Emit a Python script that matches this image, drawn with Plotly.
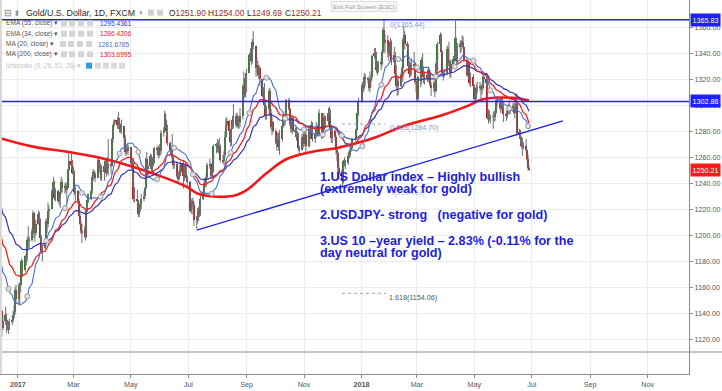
import pandas as pd
import plotly.graph_objects as go

# ---------------- data (read / estimated from the reference) ----------------
# Daily XAU/USD candles, 2016-12-14 .. 2018-06-28 (trading days)
closes = [
    # Dec 2016
    1142, 1129, 1134, 1139, 1133, 1132, 1131, 1133, 1135, 1139, 1141, 1158, 1151,
    # Jan 2017
    1161, 1162, 1165, 1180, 1173, 1184, 1185, 1196, 1196, 1196, 1203, 1217, 1202, 1202, 1209, 1216, 1211, 1198, 1188, 1190, 1195, 1211,
    # Feb 2017
    1209, 1219, 1220, 1234, 1236, 1241, 1229, 1234, 1226, 1229, 1233, 1241, 1236, 1238, 1235, 1236, 1250, 1257, 1254, 1248,
    # Mar 2017
    1249, 1233, 1234, 1226, 1215, 1209, 1203, 1202, 1204, 1199, 1220, 1227, 1229, 1234, 1245, 1249, 1247, 1244, 1258, 1252, 1253, 1244, 1249,
    # Apr 2017
    1253, 1257, 1248, 1252, 1255, 1253, 1274, 1285, 1287, 1289, 1285, 1290, 1282, 1283, 1284, 1275, 1264, 1266, 1265, 1268,
    # May 2017
    1256, 1256, 1248, 1228, 1228, 1227, 1216, 1220, 1224, 1228, 1230, 1236, 1259, 1251, 1253, 1261, 1251, 1257, 1256, 1267, 1266, 1262, 1268,
    # Jun 2017
    1265, 1279, 1281, 1293, 1287, 1280, 1271, 1266, 1267, 1260, 1254, 1255, 1246, 1243, 1246, 1249, 1256, 1246, 1253, 1249, 1244, 1241,
    # Jul 2017
    1219, 1224, 1226, 1223, 1212, 1213, 1214, 1219, 1217, 1228, 1233, 1240, 1241, 1245, 1254, 1255, 1246, 1249, 1260, 1269, 1269,
    # Aug 2017
    1268, 1267, 1269, 1258, 1257, 1262, 1276, 1285, 1288, 1280, 1272, 1282, 1289, 1285, 1292, 1284, 1290, 1287, 1292, 1315, 1309, 1308, 1321,
    # Sep 2017
    1325, 1339, 1339, 1334, 1349, 1346, 1329, 1331, 1323, 1329, 1320, 1307, 1311, 1300, 1292, 1297, 1311, 1294, 1283, 1287, 1280,
    # Oct 2017
    1271, 1273, 1274, 1268, 1274, 1284, 1292, 1288, 1293, 1304, 1297, 1286, 1282, 1290, 1280, 1281, 1276, 1278, 1267, 1266, 1276, 1270,
    # Nov 2017
    1277, 1277, 1269, 1281, 1275, 1282, 1285, 1274, 1278, 1282, 1283, 1278, 1294, 1275, 1281, 1291, 1289, 1288, 1294, 1294, 1282, 1275,
    # Dec 2017
    1280, 1276, 1266, 1263, 1252, 1248, 1246, 1242, 1257, 1254, 1256, 1261, 1262, 1266, 1267, 1274, 1281, 1286, 1294, 1303,
    # Jan 2018
    1316, 1313, 1322, 1320, 1320, 1313, 1319, 1322, 1338, 1340, 1337, 1327, 1327, 1332, 1332, 1341, 1358, 1348, 1350, 1341, 1340, 1345,
    # Feb 2018
    1349, 1333, 1339, 1324, 1315, 1319, 1315, 1323, 1329, 1350, 1354, 1347, 1346, 1330, 1324, 1331, 1330, 1332, 1318, 1318,
    # Mar 2018
    1305, 1322, 1319, 1335, 1326, 1322, 1323, 1321, 1327, 1325, 1316, 1313, 1317, 1311, 1332, 1327, 1347, 1354, 1341, 1325, 1323, 1325,
    # Apr 2018
    1343, 1333, 1333, 1325, 1332, 1336, 1338, 1352, 1334, 1345, 1347, 1348, 1349, 1345, 1335, 1323, 1333, 1322, 1317, 1322, 1315,
    # May 2018
    1305, 1306, 1313, 1314, 1314, 1313, 1313, 1322, 1320, 1317, 1290, 1291, 1290, 1291, 1291, 1291, 1294, 1304, 1302, 1298, 1299, 1299, 1298,
    # Jun 2018
    1293, 1292, 1296, 1297, 1298, 1298, 1299, 1294, 1298, 1301, 1279, 1278, 1275, 1269, 1268, 1269, 1266, 1259, 1251.9, 1250.21,
]
highs = [
    1164, 1143, 1140, 1145, 1140, 1135, 1134, 1136, 1138, 1142, 1146, 1160, 1162,
    1163, 1164, 1166, 1182, 1181, 1185, 1188, 1199, 1207, 1199, 1205, 1219, 1218, 1206, 1212, 1219, 1218, 1213, 1200, 1193, 1197, 1213,
    1213, 1225, 1223, 1235, 1238, 1245, 1242, 1236, 1235, 1232, 1236, 1245, 1243, 1240, 1241, 1240, 1251, 1264, 1263, 1258,
    1253, 1250, 1238, 1235, 1228, 1217, 1211, 1209, 1207, 1205, 1222, 1232, 1232, 1235, 1246, 1251, 1250, 1249, 1261, 1259, 1257, 1255, 1254,
    1256, 1259, 1259, 1260, 1274, 1256, 1275, 1285, 1289, 1289, 1291, 1295, 1289, 1286, 1289, 1278, 1277, 1270, 1269, 1270,
    1267, 1259, 1259, 1240, 1237, 1235, 1226, 1222, 1226, 1232, 1234, 1237, 1260, 1264, 1256, 1263, 1262, 1260, 1260, 1268, 1269, 1267, 1270,
    1270, 1281, 1283, 1296, 1294, 1289, 1285, 1272, 1269, 1278, 1261, 1258, 1257, 1248, 1250, 1254, 1257, 1258, 1254, 1256, 1254, 1246,
    1242, 1228, 1228, 1229, 1226, 1215, 1221, 1222, 1224, 1233, 1235, 1244, 1242, 1247, 1256, 1259, 1256, 1251, 1262, 1270, 1271,
    1274, 1273, 1275, 1270, 1262, 1265, 1280, 1290, 1291, 1289, 1282, 1284, 1292, 1301, 1294, 1294, 1292, 1292, 1298, 1316, 1326, 1313, 1323,
    1328, 1340, 1344, 1342, 1351, 1357, 1336, 1337, 1334, 1331, 1330, 1320, 1314, 1317, 1302, 1300, 1313, 1313, 1297, 1291, 1288,
    1282, 1277, 1279, 1279, 1281, 1287, 1294, 1293, 1296, 1305, 1306, 1298, 1288, 1292, 1292, 1283, 1283, 1280, 1279, 1269, 1278, 1279,
    1282, 1283, 1284, 1284, 1283, 1284, 1288, 1287, 1282, 1287, 1285, 1286, 1297, 1294, 1283, 1294, 1292, 1292, 1298, 1299, 1297, 1285,
    1284, 1282, 1277, 1268, 1264, 1254, 1250, 1249, 1258, 1260, 1258, 1264, 1265, 1268, 1269, 1275, 1282, 1288, 1295, 1306,
    1318, 1317, 1325, 1324, 1322, 1321, 1326, 1323, 1339, 1344, 1344, 1341, 1334, 1334, 1336, 1343, 1360, 1366, 1355, 1354, 1346, 1348,
    1352, 1350, 1345, 1341, 1331, 1322, 1323, 1325, 1330, 1352, 1361, 1357, 1349, 1347, 1334, 1333, 1336, 1341, 1333, 1321,
    1318, 1323, 1324, 1337, 1340, 1330, 1326, 1324, 1330, 1328, 1326, 1318, 1319, 1319, 1333, 1335, 1349, 1356, 1355, 1342, 1326, 1327,
    1346, 1345, 1349, 1335, 1335, 1338, 1343, 1365, 1352, 1348, 1350, 1350, 1354, 1353, 1345, 1336, 1335, 1333, 1324, 1325, 1324,
    1316, 1312, 1316, 1318, 1318, 1316, 1316, 1325, 1326, 1323, 1319, 1297, 1296, 1293, 1295, 1296, 1296, 1306, 1307, 1305, 1306, 1306, 1306,
    1301, 1296, 1298, 1301, 1304, 1300, 1302, 1301, 1305, 1309, 1309, 1282, 1281, 1276, 1275, 1272, 1274, 1266, 1262, 1254.00,
]
lows = [
    1141, 1122, 1127, 1131, 1125, 1127, 1124, 1127, 1131, 1133, 1136, 1139, 1147,
    1146, 1147, 1156, 1163, 1168, 1172, 1177, 1180, 1190, 1190, 1195, 1201, 1198, 1195, 1200, 1208, 1209, 1195, 1186, 1180, 1189, 1192,
    1202, 1206, 1213, 1220, 1231, 1233, 1227, 1226, 1225, 1223, 1221, 1232, 1233, 1232, 1233, 1225, 1236, 1249, 1251, 1247,
    1241, 1231, 1225, 1224, 1214, 1208, 1201, 1194, 1198, 1196, 1198, 1218, 1225, 1227, 1232, 1242, 1243, 1241, 1245, 1250, 1248, 1242, 1242,
    1242, 1251, 1245, 1247, 1246, 1247, 1253, 1271, 1283, 1285, 1282, 1282, 1279, 1279, 1278, 1265, 1262, 1261, 1263, 1262,
    1254, 1251, 1237, 1226, 1225, 1221, 1214, 1214, 1218, 1220, 1226, 1228, 1235, 1245, 1244, 1251, 1248, 1248, 1253, 1255, 1262, 1260, 1259,
    1261, 1262, 1276, 1280, 1283, 1276, 1269, 1262, 1261, 1257, 1251, 1251, 1244, 1240, 1242, 1245, 1247, 1236, 1242, 1246, 1241, 1237,
    1218, 1217, 1216, 1220, 1207, 1205, 1209, 1211, 1214, 1215, 1227, 1231, 1237, 1237, 1243, 1251, 1244, 1245, 1244, 1258, 1263,
    1264, 1263, 1265, 1256, 1255, 1254, 1260, 1275, 1281, 1276, 1268, 1269, 1282, 1282, 1283, 1283, 1282, 1282, 1283, 1289, 1303, 1306, 1306,
    1310, 1325, 1334, 1331, 1332, 1343, 1322, 1325, 1322, 1320, 1315, 1306, 1304, 1297, 1289, 1289, 1293, 1291, 1281, 1277, 1279,
    1270, 1265, 1271, 1265, 1262, 1272, 1283, 1284, 1285, 1290, 1296, 1284, 1279, 1279, 1278, 1276, 1273, 1275, 1265, 1262, 1266, 1267,
    1268, 1273, 1264, 1268, 1268, 1274, 1280, 1272, 1271, 1275, 1277, 1276, 1276, 1274, 1275, 1280, 1287, 1284, 1285, 1291, 1280, 1271,
    1271, 1273, 1262, 1257, 1245, 1243, 1244, 1237, 1240, 1253, 1251, 1254, 1259, 1260, 1264, 1266, 1272, 1279, 1285, 1292,
    1302, 1310, 1312, 1315, 1317, 1311, 1310, 1314, 1320, 1336, 1329, 1325, 1323, 1325, 1327, 1330, 1340, 1342, 1340, 1337, 1334, 1338,
    1340, 1331, 1330, 1323, 1313, 1307, 1308, 1314, 1321, 1318, 1350, 1343, 1342, 1328, 1321, 1322, 1323, 1327, 1316, 1310,
    1303, 1303, 1314, 1316, 1324, 1317, 1316, 1318, 1318, 1322, 1314, 1307, 1310, 1306, 1310, 1321, 1326, 1343, 1340, 1322, 1319, 1322,
    1323, 1330, 1330, 1322, 1321, 1330, 1333, 1336, 1333, 1333, 1340, 1341, 1345, 1343, 1333, 1322, 1322, 1320, 1315, 1314, 1313,
    1302, 1301, 1304, 1309, 1311, 1305, 1308, 1311, 1317, 1315, 1289, 1286, 1288, 1286, 1282, 1287, 1288, 1293, 1299, 1297, 1294, 1296, 1297,
    1287, 1288, 1290, 1293, 1293, 1293, 1296, 1293, 1290, 1296, 1277, 1274, 1270, 1267, 1261, 1266, 1264, 1257, 1250, 1249.69,
]
first_open = 1159.0
last_open = 1251.90

# closes before the first shown candle (for the 20-day MA) and EMA starting values
sma20_prior = [1216, 1207, 1213, 1212, 1188, 1183, 1178, 1190, 1189, 1173,
               1169, 1177, 1166, 1171, 1175, 1171, 1159, 1159, 1158]
ema55_start = 1226.0
ema34_start = 1204.0

# MA(200)
ma200_dates = ["2016-12-13", "2017-01-17", "2017-02-22", "2017-03-29", "2017-05-03",
               "2017-06-08", "2017-06-29", "2017-07-13", "2017-08-17", "2017-09-01",
               "2017-09-22", "2017-10-13", "2017-11-10", "2017-12-05", "2017-12-30",
               "2018-01-13", "2018-02-18", "2018-03-25", "2018-04-22", "2018-05-10",
               "2018-05-28", "2018-06-15", "2018-06-28"]
ma200_vals = [1274.7, 1268.2, 1264.3, 1259.6, 1252.8, 1243.8, 1237.4, 1231.5, 1230.2,
              1234.8, 1247.7, 1258.5, 1264.3, 1267.0, 1271.5, 1274.6, 1284.8, 1291.8,
              1299.0, 1304.6, 1306.0, 1305.4, 1303.7]

# drawn objects
hlines = [1365.83, 1302.86]
trend_dates = ["2017-07-10", "2018-08-03"]
trend_vals = [1204.0, 1288.0]

x_tick_dates = ["2017-01-01", "2017-03-01", "2017-05-01", "2017-07-01", "2017-09-01", "2017-11-01",
                "2018-01-01", "2018-03-01", "2018-05-01", "2018-07-01", "2018-09-01", "2018-11-01"]
x_tick_text = ["<b>2017</b>", "Mar", "May", "Jul", "Sep", "Nov", "<b>2018</b>", "Mar", "May", "Jul", "Sep", "Nov"]
y_ticks = [1120, 1140, 1160, 1180, 1200, 1220, 1240, 1260, 1280, 1300, 1320, 1340, 1360]

# ---------------- build ----------------
n = min(len(closes), len(highs), len(lows))
closes, highs, lows = closes[:n], highs[:n], lows[:n]
bd = pd.bdate_range("2016-12-14", "2018-08-31")
bd = bd[~bd.isin(pd.to_datetime(["2017-12-25", "2018-01-01"]))]
dates = list(bd[:n])
opens = [first_open] + closes[:-1]
opens[-1] = last_open
highs = [max(h, o, c) for h, o, c in zip(highs, opens, closes)]
lows = [min(l, o, c) for l, o, c in zip(lows, opens, closes)]

ext = pd.concat([pd.Series(sma20_prior, dtype=float), pd.Series(closes, dtype=float)], ignore_index=True)
sma20 = ext.rolling(20).mean().iloc[len(sma20_prior):].values


def ema(vals, span, start):
    a = 2.0 / (span + 1)
    out, e = [], start
    for v in vals:
        e = a * v + (1 - a) * e
        out.append(e)
    return out


ema55 = ema(closes, 55, ema55_start)
ema34 = ema(closes, 34, ema34_start)

X0, X1 = "2016-12-13", "2018-12-15"
Y0, Y1 = 1093.3, 1381.0
PW, PH = 689.0, 374.0


def px(x):
    return x / PW


def py(y):
    return 1 - y / PH


fig = go.Figure()

# wicks
wx, wy = [], []
for d, h, l in zip(dates, highs, lows):
    wx += [d, d, None]
    wy += [l, h, None]
fig.add_trace(go.Scatter(x=wx, y=wy, mode="lines", line=dict(color="#6e6e6e", width=1),
                         hoverinfo="skip", showlegend=False))
# bodies
up_x, up_b, up_h, dn_x, dn_b, dn_h = [], [], [], [], [], []
for d, o, c in zip(dates, opens, closes):
    b = min(o, c)
    hgt = max(abs(c - o), 0.6)
    if c >= o:
        up_x.append(d); up_b.append(b); up_h.append(hgt)
    else:
        dn_x.append(d); dn_b.append(b); dn_h.append(hgt)
bw = 1.5 * 86400000
fig.add_trace(go.Bar(x=up_x, y=up_h, base=up_b, width=bw, marker=dict(color="#2f7d32", line=dict(width=0)),
                     showlegend=False, hoverinfo="skip"))
fig.add_trace(go.Bar(x=dn_x, y=dn_h, base=dn_b, width=bw, marker=dict(color="#b71c1c", line=dict(width=0)),
                     showlegend=False, hoverinfo="skip"))

# moving averages
fig.add_trace(go.Scatter(x=ma200_dates, y=ma200_vals, mode="lines", line=dict(color="#f01818", width=2.6, shape="spline"),
                         showlegend=False, hoverinfo="skip"))
fig.add_trace(go.Scatter(x=dates, y=ema55, mode="lines", line=dict(color="#3434b4", width=1.2),
                         showlegend=False, hoverinfo="skip"))
fig.add_trace(go.Scatter(x=dates, y=ema34, mode="lines", line=dict(color="#f02020", width=1.3),
                         showlegend=False, hoverinfo="skip"))
fig.add_trace(go.Scatter(x=dates, y=sma20, mode="lines", line=dict(color="#4a6cd0", width=1.1),
                         showlegend=False, hoverinfo="skip"))
mk = list(range(6, n, 14))
fig.add_trace(go.Scatter(x=[dates[i] for i in mk], y=[sma20[i] for i in mk], mode="markers",
                         marker=dict(size=5, color="#e2e2e2", line=dict(color="#9a9a9a", width=1)),
                         showlegend=False, hoverinfo="skip"))

# trend line
fig.add_trace(go.Scatter(x=trend_dates, y=trend_vals, mode="lines", line=dict(color="#1f1fe6", width=1.3),
                         showlegend=False, hoverinfo="skip"))

shapes = []
for v in hlines:
    shapes.append(dict(type="line", xref="paper", yref="y", x0=0, x1=1, y0=v, y1=v,
                       line=dict(color="#2323e6", width=1.5)))
# pane separator and left border
shapes.append(dict(type="line", xref="paper", yref="paper", x0=0, x1=722 / PW, y0=py(352), y1=py(352),
                   line=dict(color="#8a8a8a", width=1)))
shapes.append(dict(type="line", xref="paper", yref="paper", x0=px(1), x1=px(1), y0=0, y1=1,
                   line=dict(color="#d8d8d8", width=2)))
# fib dotted lines
shapes.append(dict(type="line", xref="paper", yref="paper", x0=px(342), x1=px(385), y0=py(124), y1=py(124),
                   line=dict(color="#8fa8e8", width=1, dash="dot")))
shapes.append(dict(type="line", xref="paper", yref="paper", x0=px(342), x1=px(386), y0=py(293.3), y1=py(293.3),
                   line=dict(color="#a0a0a0", width=1, dash="dot")))
# small icon squares in legend area
icon_rows = [(23.3, [61, 69, 78, 87]), (33.7, [61, 69, 78, 87]), (44, [60, 68, 77, 86]), (54.3, [61, 69, 78, 87])]
for yy, xs in icon_rows:
    for xx in xs:
        shapes.append(dict(type="rect", xref="paper", yref="paper", x0=px(xx), x1=px(xx + 6),
                           y0=py(yy + 3), y1=py(yy - 3), fillcolor="#d4d4d4", line=dict(width=0)))
for i, xx in enumerate([86, 95, 103, 111, 119]):
    shapes.append(dict(type="rect", xref="paper", yref="paper", x0=px(xx), x1=px(xx + 6),
                       y0=py(68.7), y1=py(62.7), fillcolor="#2aa0e0" if i == 0 else "#dadada", line=dict(width=0)))
for xx in [148, 157]:
    shapes.append(dict(type="rect", xref="paper", yref="paper", x0=px(xx), x1=px(xx + 6),
                       y0=py(15.7), y1=py(9.7), fillcolor="#d0d0d0", line=dict(width=0)))

ann = []
F = "Liberation Sans, Arial, sans-serif"


def text(x, y, s, size=8, color="#555", anchor="left", **kw):
    ann.append(dict(x=px(x), y=py(y), xref="paper", yref="paper", text=s, showarrow=False,
                    xanchor=anchor, yanchor="middle", font=dict(family=F, size=size, color=color), **kw))


# header
text(2, 12.7, "⊟", size=8.5, color="#777")
text(13, 12.7, "▮", size=7, color="#999")
text(24, 12.7, "Gold/U.S. Dollar, 1D, FXCM", size=8.8, color="#2a2a2a")
text(137, 12.7, "▾", size=6.5, color="#999")
RC = "#9c2b2b"
text(167, 12.7, f"O<span style='color:{RC}'>1251.90</span>", size=8.4, color="#2a2a2a")
text(206, 12.7, f"H<span style='color:{RC}'>1254.00</span>", size=8.4, color="#2a2a2a")
text(245, 12.7, f"L<span style='color:{RC}'>1249.69</span>", size=8.4, color="#2a2a2a")
text(283, 12.7, f"C<span style='color:{RC}'>1250.21</span>", size=8.4, color="#2a2a2a")

# indicator legend
LS = 6.6
text(4, 23.3, "EMA (55, close) ▾", size=LS, color="#555")
text(98, 23.3, "1295.4361", size=LS, color="#3434b4")
text(4, 33.7, "EMA (34, close) ▾", size=LS, color="#555")
text(98, 33.7, "1286.4206", size=LS, color="#e82020")
text(4, 44, "MA (20, close) ▾", size=LS, color="#555")
text(96, 44, "1281.6785", size=LS, color="#4a6cd0")
text(4, 54.3, "MA (200, close) ▾", size=LS, color="#555")
text(98, 54.3, "1303.6995", size=LS, color="#e82020")
text(4, 65.7, "Ichimoku (9, 26, 52, 26) ▾", size=LS, color="#c4c4c4")

# exit full screen hint
ann.append(dict(x=px(364), y=py(0.5), xref="paper", yref="paper", text="Exit Full Screen (ESC)", showarrow=False,
                xanchor="center", yanchor="top", font=dict(family=F, size=6.2, color="#9a9a9a"),
                bgcolor="#f7f7f7", bordercolor="#dddddd", borderwidth=1, borderpad=1))

# fibonacci labels
text(388, 24.3, "0(1365.44)", size=7.2, color="#7d9ae0")
text(388, 127.3, "0.618(1284.70)", size=7.2, color="#7d9ae0")
text(389, 193, "1(1234.68)", size=7, color="#c0cbee")
text(387, 297.7, "1.618(1154.06)", size=7.2, color="#555")

# commentary
BC = "#1c1ce8"
for yy, s in [(176.7, "1.US Dollar index – Highly bullish"),
              (189.3, "(extremely weak for gold)"),
              (215, "2.USDJPY- strong   (negative for gold)"),
              (241, "3.US 10 –year yield – 2.83% (-0.11% for the"),
              (252.7, "day neutral for gold)")]:
    text(318, yy, "<b>" + s + "</b>", size=12.6, color=BC)

# price labels on the axis
for yv, s, col in [(19.7, "1365.83", "#1f1fff"), (100.7, "1302.86", "#1f1fff"), (170, "1250.21", "#ff1a1a")]:
    ann.append(dict(x=px(689.5), y=py(yv), xref="paper", yref="paper", text=s, showarrow=False,
                    xanchor="left", yanchor="middle", font=dict(family=F, size=7.2, color="white"),
                    bgcolor=col, borderpad=1.5))

fig.update_layout(
    width=722, height=391,
    margin=dict(l=0, r=33, t=0, b=17),
    paper_bgcolor="white", plot_bgcolor="white",
    barmode="overlay", bargap=0,
    showlegend=False,
    shapes=shapes, annotations=ann,
    xaxis=dict(type="date", range=[X0, X1], tickvals=x_tick_dates, ticktext=x_tick_text,
               tickfont=dict(family=F, size=7.2, color="#555"), showgrid=True, gridcolor="#ececec",
               gridwidth=1, showline=True, linecolor="#8a8a8a", mirror=True, ticks="outside",
               ticklen=3, tickcolor="#8a8a8a", zeroline=False, fixedrange=True),
    yaxis=dict(side="right", range=[Y0, Y1], tickvals=y_ticks, ticktext=[f"{v:.2f}" for v in y_ticks],
               tickfont=dict(family=F, size=7.2, color="#555"), showgrid=True, gridcolor="#ececec",
               showline=True, linecolor="#8a8a8a", ticks="outside", ticklen=3, tickcolor="#8a8a8a",
               zeroline=False, fixedrange=True),
)

fig.write_html("out.html", config={"displayModeBar": False},
               post_script="document.body.style.margin='0px';document.body.style.overflow='hidden';")
